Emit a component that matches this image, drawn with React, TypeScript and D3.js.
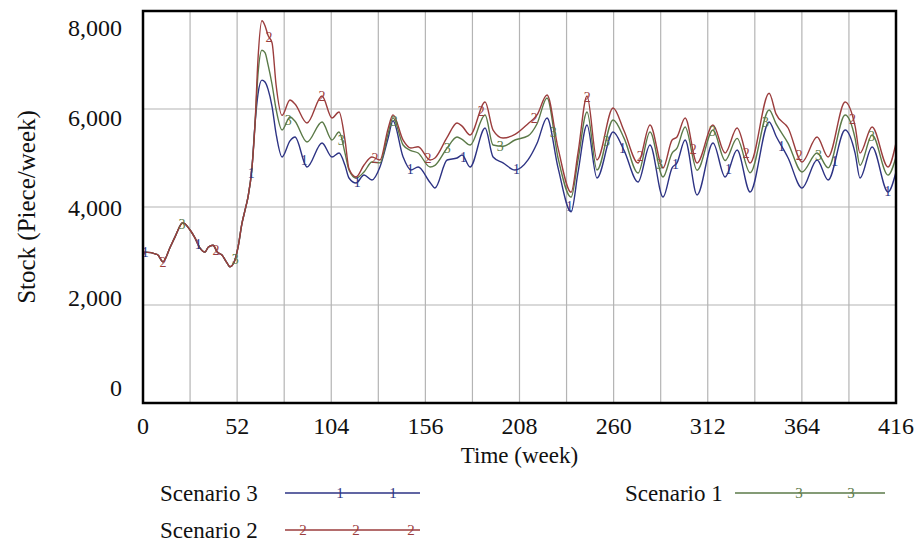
import React from "react";
import * as d3 from "d3";

const weeks = [0, 1, 8, 11, 15, 17.7, 22, 26, 28.7, 31.5, 34.3, 36, 38.7, 41, 43.6, 46.4, 48, 50.8, 52.5, 54.7, 56.4, 58, 60.2, 61.9, 63.5, 65.7, 67.4, 69.1, 71.3, 73.5, 76.8, 81.2, 84, 90.6, 98.9, 104.4, 108.3, 111.6, 113.8, 117.7, 122.1, 126.5, 130.9, 135.4, 138.1, 143.7, 148, 152, 158.6, 161.3, 168, 173.5, 176.3, 180.7, 189, 193.4, 198.9, 205.5, 212.7, 217.7, 223.2, 229.3, 236.5, 240.3, 245.3, 250.8, 259.7, 265.8, 273.5, 280.1, 287.3, 292.3, 295, 299.5, 306.1, 314.9, 321.6, 328.2, 335.4, 345.9, 349.7, 356.4, 364.1, 372.4, 378.5, 387.9, 393.4, 396.1, 402.8, 411.6, 416];

const early = [3000, 3080, 3030, 2880, 3180, 3390, 3680, 3530, 3370, 3160, 3080, 3180, 3220, 3080, 3020, 2860, 2780, 2920, 3180, 3670, 3940, 4200, 4800, 5700];

const scenario3 = [...early, 6300, 6590, 6550, 6400, 6050, 5500, 5020, 5350, 5429, 4816, 5306, 5020, 5102, 4850, 4592, 4490, 4653, 4551, 4816, 5400, 5760, 5020, 4755, 4816, 4500, 4388, 4959, 5000, 5061, 4816, 5612, 5020, 4900, 4755, 4960, 5300, 5816, 4800, 3900, 4700, 5673, 4592, 5531, 5150, 4510, 5265, 4204, 4800, 4900, 5367, 4245, 5306, 4612, 5163, 4306, 5735, 5450, 5000, 4388, 4959, 4551, 5571, 5100, 4592, 5225, 4306, 4714];

const scenario2 = [...early, 7000, 7800, 7700, 7500, 7350, 6500, 5870, 6184, 6100, 5714, 6265, 5816, 5939, 5367, 4780, 4612, 4857, 5020, 4960, 5600, 5880, 5367, 5204, 5230, 4959, 5000, 5420, 5714, 5650, 5469, 6143, 5571, 5408, 5480, 5700, 5878, 6286, 5200, 4300, 5100, 6265, 4959, 6020, 5550, 4898, 5673, 4796, 5367, 5429, 5816, 4898, 5673, 5102, 5612, 4898, 6320, 5900, 5612, 4918, 5429, 5020, 6143, 5650, 5100, 5633, 4816, 5306];

const scenario1 = [...early, 6700, 7200, 7150, 6900, 6500, 6000, 5570, 5837, 5750, 5327, 5735, 5367, 5531, 5100, 4755, 4592, 4714, 4918, 4900, 5500, 5820, 5265, 5150, 5102, 4816, 4850, 5204, 5429, 5380, 5265, 5878, 5265, 5240, 5367, 5450, 5700, 6225, 5000, 4200, 4950, 5939, 4755, 5776, 5400, 4694, 5530, 4612, 5100, 5200, 5633, 4750, 5570, 4950, 5400, 4700, 5980, 5700, 5300, 4714, 5102, 4800, 5878, 5400, 4850, 5469, 4650, 5020];

const marks3 = [1.2, 30.5, 59.8, 89.1, 118.4, 147.7, 177, 206.3, 235.6, 264.9, 294.2, 323.5, 352.8, 382.1, 411.4];
const marks2 = [11, 40.3, 69.6, 98.9, 128.2, 157.5, 186.8, 216.1, 245.4, 274.7, 304, 333.3, 362.6, 391.9];
const marks1 = [21.6, 50.9, 80.2, 109.5, 138.8, 168.1, 197.4, 226.7, 256, 285.3, 314.6, 343.9, 373.2, 402.5];

const xTicks = [0, 52, 104, 156, 208, 260, 312, 364, 416];
const xGrid = [26, 52, 78, 104, 130, 156, 182, 208, 234, 260, 286, 312, 338, 364, 390];
const yTicks = [0, 2000, 4000, 6000, 8000];
const yGrid = [2000, 4000, 6000];

const series = [
  { name: "Scenario 3", values: scenario3, marks: marks3, label: "1", color: "#2d3384" },
  { name: "Scenario 1", values: scenario1, marks: marks1, label: "3", color: "#5b7a48" },
  { name: "Scenario 2", values: scenario2, marks: marks2, label: "2", color: "#9b3d3d" },
];

const FONT = "'Liberation Serif', 'Times New Roman', serif";

export default function App() {
  const L = 143, R = 896, T = 11, B = 403;
  const x = d3.scaleLinear().domain([0, 416]).range([L, R]);
  const y = d3.scaleLinear().domain([0, 8000]).range([B, T]);
  const yLab = d3.scaleLinear().domain([0, 8000]).range([388, 28]);
  const line = d3
    .line<number>()
    .x((_, i) => x(weeks[i]))
    .y((d) => y(d))
    .curve(d3.curveMonotoneX);

  const interp = (vals: number[], w: number) => {
    const i = Math.max(1, d3.bisectLeft(weeks, w));
    const w0 = weeks[i - 1], w1 = weeks[i];
    const t = (w - w0) / (w1 - w0);
    return vals[i - 1] + (vals[i] - vals[i - 1]) * t;
  };

  const legend = [
    { s: series[0], tx: 160, ty: 493, x0: 285, x1: 420, m: [340, 393] },
    { s: series[2], tx: 160, ty: 530, x0: 285, x1: 420, m: [303, 356, 411] },
    { s: series[1], tx: 625, ty: 493, x0: 735, x1: 885, m: [799, 851] },
  ];

  return (
    <svg width={918} height={542} style={{ position: "absolute", left: 0, top: 0, background: "#fff" }} fontFamily={FONT}>
      <rect x={0} y={0} width={918} height={542} fill="#fff" />
      {xGrid.map((g) => (
        <line key={"xg" + g} x1={x(g)} x2={x(g)} y1={T} y2={B} stroke="#b4b4b4" strokeWidth={1.2} />
      ))}
      {yGrid.map((g) => (
        <line key={"yg" + g} x1={L} x2={R} y1={y(g)} y2={y(g)} stroke="#b4b4b4" strokeWidth={1.2} />
      ))}
      {series.map((s) => (
        <path key={s.name} d={line(s.values) || ""} fill="none" stroke={s.color} strokeWidth={1.4} />
      ))}
      {series.map((s) =>
        s.marks.map((w) => (
          <text key={s.name + w} x={x(w)} y={y(interp(s.values, w))} dy="0.35em" textAnchor="middle" fontSize={14} fill={s.color}>
            {s.label}
          </text>
        ))
      )}
      <rect x={L} y={T} width={R - L} height={B - T} fill="none" stroke="#000" strokeWidth={2.5} />
      {yTicks.map((t) => (
        <text key={"yt" + t} x={122} y={yLab(t)} dy="0.35em" textAnchor="end" fontSize={24} fill="#111">
          {d3.format(",")(t)}
        </text>
      ))}
      {xTicks.map((t) => (
        <text key={"xt" + t} x={x(t)} y={426} dy="0.35em" textAnchor="middle" fontSize={24} fill="#111">
          {t}
        </text>
      ))}
      <text x={(L + R) / 2} y={455} dy="0.35em" textAnchor="middle" fontSize={23} fill="#111">
        Time (week)
      </text>
      <text transform={`translate(26, ${(T + B) / 2}) rotate(-90)`} textAnchor="middle" dy="0.35em" fontSize={25} fill="#111">
        Stock (Piece/week)
      </text>
      {legend.map((l) => (
        <g key={l.s.name}>
          <text x={l.tx} y={l.ty} dy="0.35em" fontSize={23} fill="#111">
            {l.s.name}
          </text>
          <line x1={l.x0} x2={l.x1} y1={l.ty} y2={l.ty} stroke={l.s.color} strokeWidth={1.6} />
          {l.m.map((mx) => (
            <text key={mx} x={mx} y={l.ty} dy="0.35em" textAnchor="middle" fontSize={15} fill={l.s.color}>
              {l.s.label}
            </text>
          ))}
        </g>
      ))}
    </svg>
  );
}
